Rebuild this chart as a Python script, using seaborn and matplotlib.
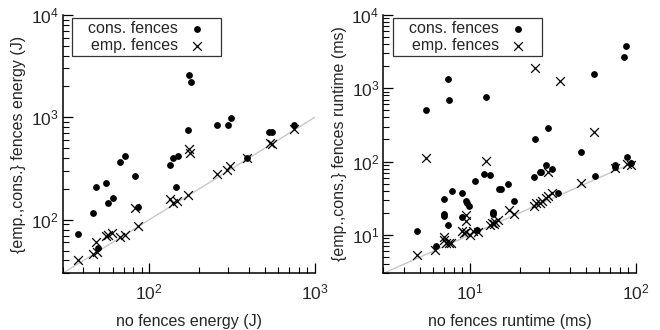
import numpy as np
import pandas as pd
import matplotlib
matplotlib.use('Agg')
import matplotlib.pyplot as plt
from matplotlib.path import Path
import seaborn as sns

# Energy panel: no-fence energy (x) vs fenced energy (y), in J.
e_cons_x = [37.3, 45.6, 48, 54.7, 56.5, 60, 66.4, 71.2, 81.5, 85.4, 48.9, 133, 140, 149, 146,
            172, 173, 179, 258, 297, 313, 531, 551, 746, 389]
e_cons_y = [72.5, 116, 210, 228, 146, 164, 365, 418, 270, 133, 53, 339, 403, 421, 210,
            750, 2558, 2203, 840, 832, 982, 711, 711, 845, 396]
e_emp_x = [37.3, 45.9, 48.4, 48, 54.7, 56.7, 59.4, 66.7, 71.2, 85.4, 81.5, 134, 140, 147, 171,
           173, 177, 257, 296, 308, 389, 539, 551, 746]
e_emp_y = [40.7, 46.3, 48, 60.5, 69.3, 71.4, 74, 67.1, 71.4, 86, 129, 159, 147, 151, 175,
           493, 443, 277, 308, 331, 396, 563, 547, 773]

# Runtime panel: no-fence runtime (x) vs fenced runtime (y), in ms.
r_cons_x = [5.45, 7.35, 7.45, 12.5, 24.6, 24.7, 29.5, 56.1, 87.8, 85.7, 46.9, 89, 4.75, 6.21,
            6.98, 6.95, 6.95, 7.38, 7.73, 8.94, 9.4, 9.6, 9.9, 8.97, 10.7, 12.2, 13.2, 13.7,
            13.7, 14.9, 15.3, 16.9, 11.0, 18.5, 24.2, 26.3, 27.0, 28.8, 31.1, 34.1, 56.5,
            74.8, 74.8, 93.3]
r_cons_y = [511, 1331, 689, 747, 7480, 204, 291, 1556, 3707, 2704, 133, 116, 11.3, 7.08,
            30.7, 19.1, 18.2, 13.7, 39.4, 37.8, 29.4, 27.6, 25.1, 17.8, 54.6, 68, 65.9, 20.4,
            19.1, 42.8, 42.8, 49.6, 11.7, 28.8, 61.2, 71.6, 72.5, 90, 80, 37.1, 64.4,
            90, 84, 95]
r_emp_x = [5.45, 12.5, 24.6, 35.1, 56.1, 4.8, 6.17, 6.98, 7.0, 7.2, 7.5, 7.65, 8.9, 9.23,
           9.5, 10, 10.4, 9.4, 9.5, 11.1, 13.2, 13.5, 13.9, 14.2, 14.7, 17.1, 18.5, 24.2,
           25.1, 26.6, 27.4, 28.6, 29.5, 31.1, 29.7, 47.1, 74.6, 89, 93.3]
r_emp_y = [113, 103, 1897, 1250, 254, 5.33, 6.24, 9.3, 8.4, 7.7, 7.7, 7.85, 11.2, 10.5,
           11.1, 10, 11.4, 18.7, 15.5, 11.1, 13.8, 14.7, 14.1, 15.2, 16.0, 21.9, 19.1, 24.9,
           27.0, 27.6, 29.4, 32, 34.4, 37.8, 73.1, 50.7, 81, 93, 91]

sns.set_style('ticks')
plt.rcParams['font.family'] = ['Liberation Sans', 'DejaVu Sans']
plt.rcParams['mathtext.fontset'] = 'custom'
plt.rcParams['mathtext.rm'] = 'Liberation Sans'
plt.rcParams['font.size'] = 11.5
plt.rcParams['xtick.direction'] = 'in'
plt.rcParams['ytick.direction'] = 'in'

fig = plt.figure(figsize=(6.6, 3.3), dpi=100)
ax1 = fig.add_axes([0.095, 0.172, 0.382, 0.783])
ax2 = fig.add_axes([0.581, 0.172, 0.382, 0.783])


# gnuplot-like key box: extra room left and right of the entries
def wide_box(x0, y0, width, height, mutation_size):
    padx = 0.8 * mutation_size
    x0 -= padx
    x1 = x0 + width + 2 * padx
    y1 = y0 + height
    return Path([(x0, y0), (x1, y0), (x1, y1), (x0, y1), (x0, y0)], closed=True)


def panel(ax, cx, cy, ex, ey, lim, xlabel, ylabel):
    ax.set_xscale('log')
    ax.set_yscale('log')
    ax.plot([1, 1e4], [1, 1e4], color='#c8c8c8', lw=1, zorder=1)
    cons = pd.DataFrame({'x': cx, 'y': cy})
    emp = pd.DataFrame({'x': ex, 'y': ey})
    sns.scatterplot(data=cons, x='x', y='y', ax=ax, marker='o', color='black', s=24,
                    edgecolor='black', linewidth=0, label='cons. fences', zorder=3)
    sns.scatterplot(data=emp, x='x', y='y', ax=ax, marker='x', color='black', s=40,
                    linewidth=0.9, label='emp. fences', zorder=3)
    ax.set_xlim(lim[0], lim[1])
    ax.set_ylim(lim[2], lim[3])
    ax.set_xlabel(xlabel, fontsize=11.5, labelpad=8)
    ax.set_ylabel(ylabel, fontsize=11.5, labelpad=3)
    sns.despine(ax=ax)
    for sp in ax.spines.values():
        sp.set_color('black')
        sp.set_linewidth(1.1)
    ax.tick_params(which='major', length=7, width=0.9, color='black', labelsize=12.5, pad=7)
    ax.tick_params(which='minor', length=4, width=0.8, color='black')
    ax.tick_params(axis='y', which='major', pad=3)
    leg = ax.legend(loc='upper left', bbox_to_anchor=(0.088, 0.988), markerfirst=False,
                    frameon=True, fancybox=False, framealpha=1, edgecolor='#333333',
                    borderpad=0.2, labelspacing=0.1, handlelength=1.0,
                    handletextpad=0.7, borderaxespad=0, fontsize=11.5)
    leg.get_frame().set_linewidth(0.9)
    leg.get_frame().set_boxstyle(wide_box)


panel(ax1, e_cons_x, e_cons_y, e_emp_x, e_emp_y, (30, 1000, 30, 1e4),
      'no fences energy (J)', '{emp.,cons.} fences energy (J)')
panel(ax2, r_cons_x, r_cons_y, r_emp_x, r_emp_y, (3, 100, 3, 1e4),
      'no fences runtime (ms)', '{emp.,cons.} fences runtime (ms)')

plt.savefig('out.png', dpi=100)
